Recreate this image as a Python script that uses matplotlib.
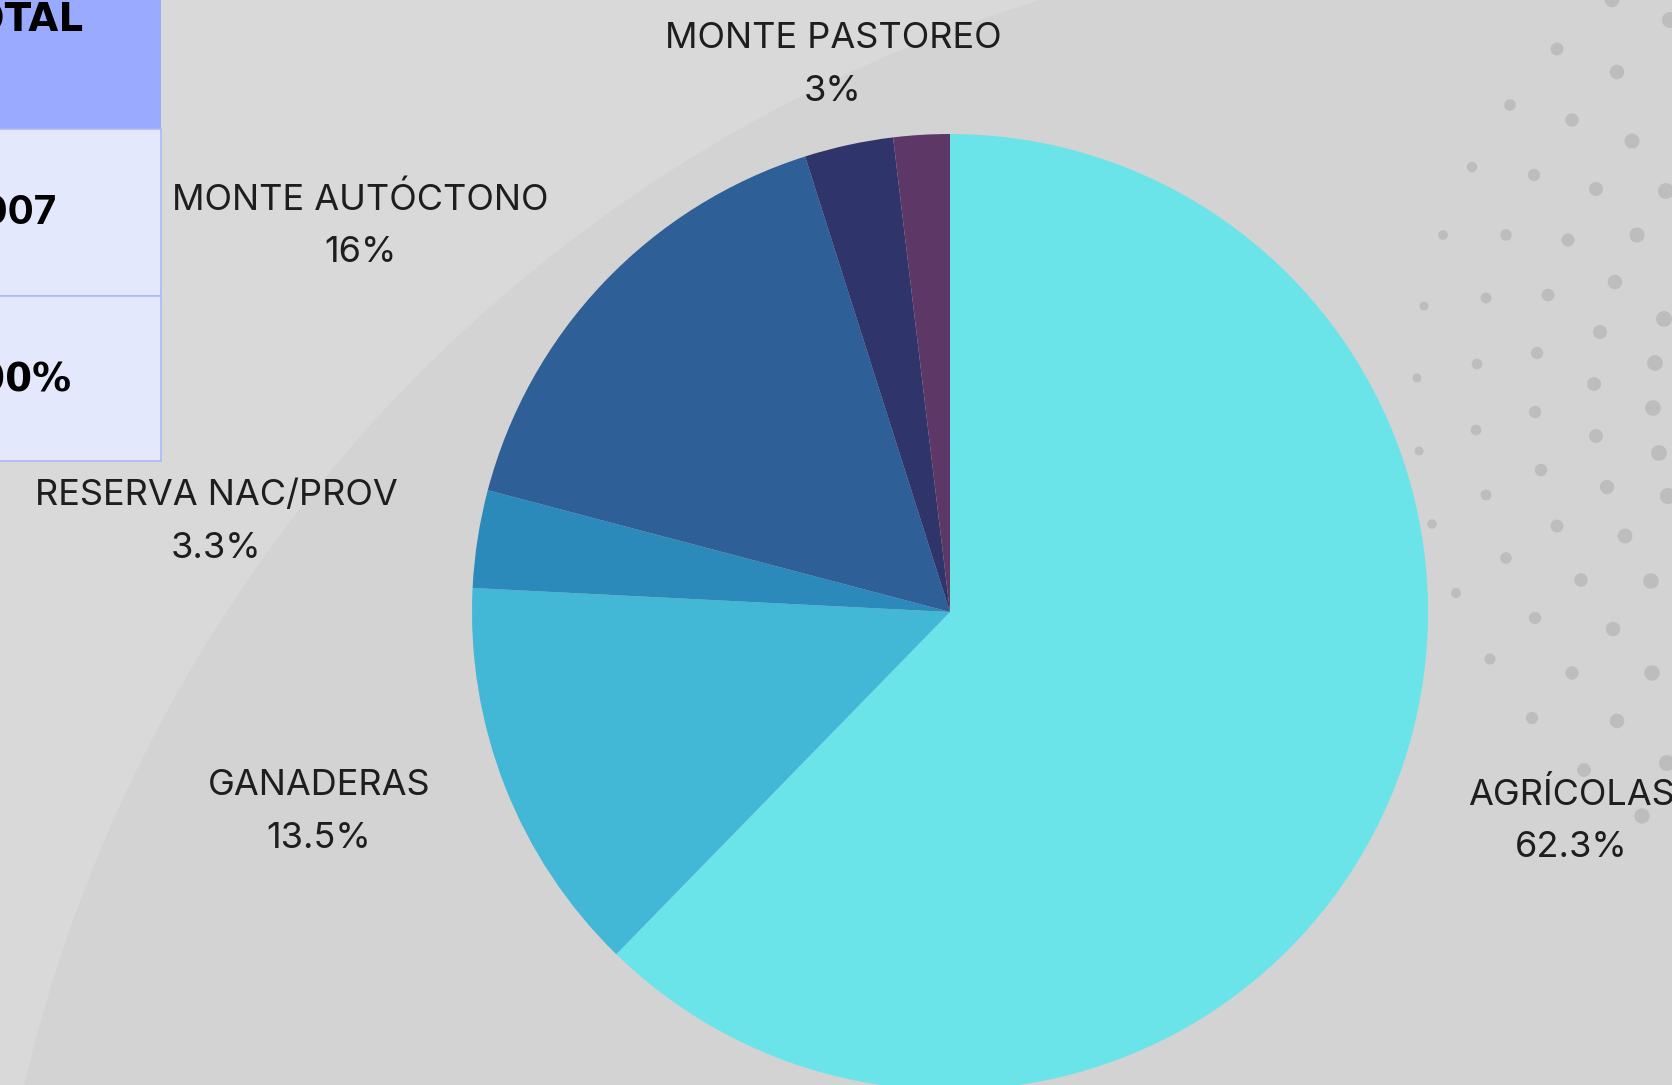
import matplotlib
matplotlib.use("Agg")
import matplotlib.pyplot as plt
from matplotlib.patches import Circle, Rectangle
import numpy as np

# data
categories = ["AGRÍCOLAS", "GANADERAS", "RESERVA NAC/PROV",
              "MONTE AUTÓCTONO", "MONTE PASTOREO", ""]
shares = [62.3, 13.5, 3.3, 16, 3, 1.9]
slice_colors = ["#6ae4e8", "#42b7d6", "#2b8ab9", "#2e5f96", "#2f346a", "#5d3765"]

# table fragment at the left edge (cut off in the original)
table_texts = ["TOTAL", "2007", "100%"]

W, H = 1672, 1085
fig = plt.figure(figsize=(W / 100, H / 100), dpi=100)
fig.patch.set_facecolor("#d9d9d9")
ax = fig.add_axes([0, 0, 1, 1])
ax.set_xlim(0, W)
ax.set_ylim(0, H)
ax.set_aspect("equal")
ax.axis("off")


def py(y):
    # pixel rows counted from the top
    return H - y


# background arc
ax.add_patch(Circle((1475, py(1425)), 1490, facecolor="#d3d3d3",
                    edgecolor="none", zorder=0))

# decorative dot pattern, upper right
dots = [(1557, 49), (1617, 72), (1510, 105), (1572, 120), (1632, 141),
        (1472, 167), (1534, 175), (1596, 189), (1666, 191), (1443, 235),
        (1506, 235), (1568, 240), (1637, 235), (1424, 306), (1486, 298),
        (1548, 295), (1615, 282), (1664, 319), (1417, 378), (1477, 364),
        (1537, 353), (1600, 332), (1655, 363), (1594, 384), (1419, 451),
        (1476, 430), (1535, 412), (1596, 436), (1653, 408), (1659, 453),
        (1432, 524), (1486, 495), (1541, 470), (1607, 487), (1668, 496),
        (1456, 593), (1506, 558), (1557, 526), (1625, 536), (1490, 659),
        (1535, 618), (1581, 580), (1651, 581), (1532, 718), (1572, 673),
        (1613, 629), (1652, 673), (1617, 721), (1584, 770), (1667, 763),
        (1642, 816), (1612, 0), (1670, 20)]
dx = np.array([d[0] for d in dots])
dy = np.array([py(d[1]) for d in dots])
diam = 9 + (dx - 1417) / (1668 - 1417) * 7
ax.scatter(dx, dy, s=(diam * 0.72) ** 2, color="#bdbdbd", linewidths=0,
           zorder=1)

# pie
ax.pie(shares, colors=slice_colors, startangle=90, counterclock=False,
       center=(950, py(612)), radius=478, frame=True,
       wedgeprops=dict(linewidth=0, zorder=2))
ax.set_xlim(0, W)
ax.set_ylim(0, H)
ax.axis("off")

# slice labels
label_pos = [(1571, 821), (319, 812), (216, 522), (360, 226), (833, 65), None]
for name, val, pos in zip(categories, shares, label_pos):
    if not name:
        continue
    ax.text(pos[0], py(pos[1]), f"{name}\n{val:g}%", ha="center",
            va="center", fontsize=26, color="#1e1e1e", family="Inter",
            linespacing=1.75, zorder=5)

# table
edge = "#a9b8fb"
ax.add_patch(Rectangle((-5, py(129)), 166, 134, facecolor="#9aabff",
                       edgecolor="none", zorder=3))
ax.add_patch(Rectangle((-5, py(296)), 166, 167, facecolor="#e3e8fd",
                       edgecolor=edge, linewidth=1.2, zorder=3))
ax.add_patch(Rectangle((-5, py(461)), 166, 165, facecolor="#e3e8fd",
                       edgecolor=edge, linewidth=1.2, zorder=3))
cell_y = [20, 213, 380]
cell_right = [84, 57, 72]
cell_font = ["DejaVu Sans", "Inter", "DejaVu Sans"]
for txt, yy, xr, fam in zip(table_texts, cell_y, cell_right, cell_font):
    ax.text(xr, py(yy), txt, ha="right", va="center", fontsize=28,
            fontweight="bold", color="black", family=fam, zorder=4)

fig.savefig("out.png", dpi=100, facecolor=fig.get_facecolor())
